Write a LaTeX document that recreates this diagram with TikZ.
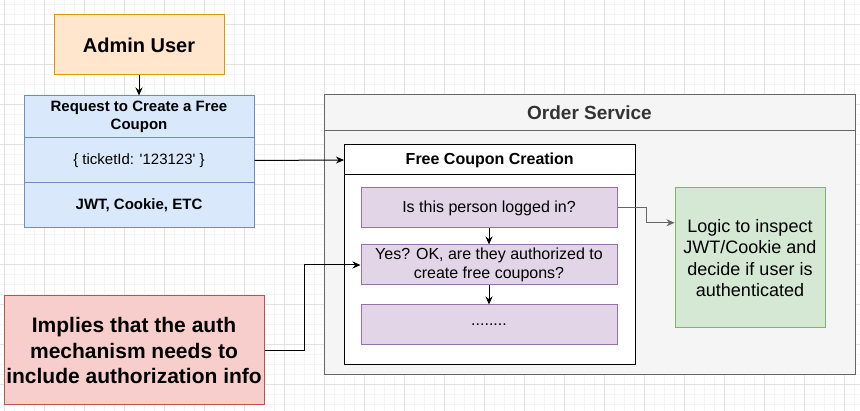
\documentclass[tikz,border=0pt]{standalone}
\usepackage{fontspec}
\setmainfont{Liberation Sans}
\usetikzlibrary{arrows.meta,calc}
\definecolor{adminfill}{HTML}{FFE6CC}
\definecolor{admindraw}{HTML}{D79B00}
\definecolor{reqfill}{HTML}{DAE8FC}
\definecolor{reqdraw}{HTML}{6C8EBF}
\definecolor{osvfill}{HTML}{F5F5F5}
\definecolor{osvdraw}{HTML}{666666}
\definecolor{osvtext}{HTML}{333333}
\definecolor{stepfill}{HTML}{E1D5E7}
\definecolor{stepdraw}{HTML}{9673A6}
\definecolor{logicfill}{HTML}{D5E8D4}
\definecolor{logicdraw}{HTML}{82B366}
\definecolor{impfill}{HTML}{F8CECC}
\definecolor{impdraw}{HTML}{B85450}
\definecolor{gridminor}{HTML}{F4F4F4}
\definecolor{gridmajor}{HTML}{E2E2E2}
\begin{document}
\begin{tikzpicture}
[x=1pt,y=-1pt,line width=1pt,>={Stealth[length=8pt,width=7pt]},
every node/.style={rectangle,draw,line width=1pt,align=center,inner sep=0pt},
adminbox/.style={fill=adminfill,draw=admindraw,minimum width=170pt,minimum height=60pt,font=\fontsize{20}{24}\selectfont\bfseries},
reqpart/.style={fill=reqfill,draw=reqdraw,minimum width=230pt,font=\fontsize{15}{18}\selectfont},
osvbox/.style={fill=osvfill,draw=osvdraw,minimum width=531pt},
fccbox/.style={fill=white,draw=black,minimum width=290.5pt},
stepbox/.style={fill=stepfill,draw=stepdraw,minimum width=256pt,minimum height=40pt,font=\fontsize{16}{19.2}\selectfont},
logicbox/.style={fill=logicfill,draw=logicdraw,minimum width=150pt,minimum height=140pt,font=\fontsize{18}{21.6}\selectfont},
impbox/.style={fill=impfill,draw=impdraw,minimum width=260pt,minimum height=109pt,font=\fontsize{21}{25.2}\selectfont\bfseries},
gridline/.style={line width=1pt,draw=gridminor}]
\useasboundingbox (0,0) rectangle (860,411);
\fill[white] (0,0) rectangle (860,411);
\foreach \x in {4,14,...,854} \draw[gridline] (\x,0) -- (\x,411);
\foreach \y in {5,15,...,405} \draw[gridline] (0,\y) -- (860,\y);
\foreach \x in {4,44,...,844} \draw[gridline,draw=gridmajor] (\x,0) -- (\x,411);
\foreach \y in {25,65,...,385} \draw[gridline,draw=gridmajor] (0,\y) -- (860,\y);
\node[adminbox] (admin) at (139,45) {Admin User};
\node[reqpart,minimum height=42pt,font=\fontsize{15}{18}\selectfont\bfseries] (reqtitle) at (139,117) {Request to Create a Free\\Coupon};
\node[reqpart,minimum height=45pt] (reqbody) at (139,160.5) {\{ ticketId: \textquotesingle123123\textquotesingle\ \}};
\node[reqpart,minimum height=45pt,font=\fontsize{15}{18}\selectfont\bfseries] (reqauth) at (139,205.5) {JWT, Cookie, ETC};
\node[osvbox,minimum height=280pt] (osv) at (589.5,235) {};
\node[osvbox,minimum height=36pt,fill=none,text=osvtext,font=\fontsize{19}{22.8}\selectfont\bfseries] (osvtitle) at (589.5,113) {Order Service};
\node[fccbox,minimum height=220pt] (fcc) at (489.75,255) {};
\node[fccbox,minimum height=30pt,fill=none,font=\fontsize{16}{19.2}\selectfont\bfseries] (fcctitle) at (489.75,160) {Free Coupon Creation};
\node[stepbox] (step1) at (489,208) {Is this person logged in?};
\node[stepbox] (step2) at (489,265) {Yes? OK, are they authorized to\\create free coupons?};
\node[stepbox] (step3) at (489,325) {........};
\node[logicbox] (logic) at (750,258) {Logic to inspect\\JWT/Cookie and\\decide if user is\\authenticated};
\node[impbox] (implies) at (134,350.5) {Implies that the auth\\mechanism needs to\\include authorization info};
\foreach \from/\to in {admin.south/reqtitle.north,reqbody.east/fcctitle.west,step1.south/step2.north,step2.south/step3.north}
\draw[->] (\from) -- (\to);
\draw[->,draw=osvdraw] (step1.east) -- ++(29,0) |- ($(logic.north west)!.25!(logic.south west)$);
\draw[->] (implies.east) -- ++(40,0) |- (step2.west);
\end{tikzpicture}
\end{document}
